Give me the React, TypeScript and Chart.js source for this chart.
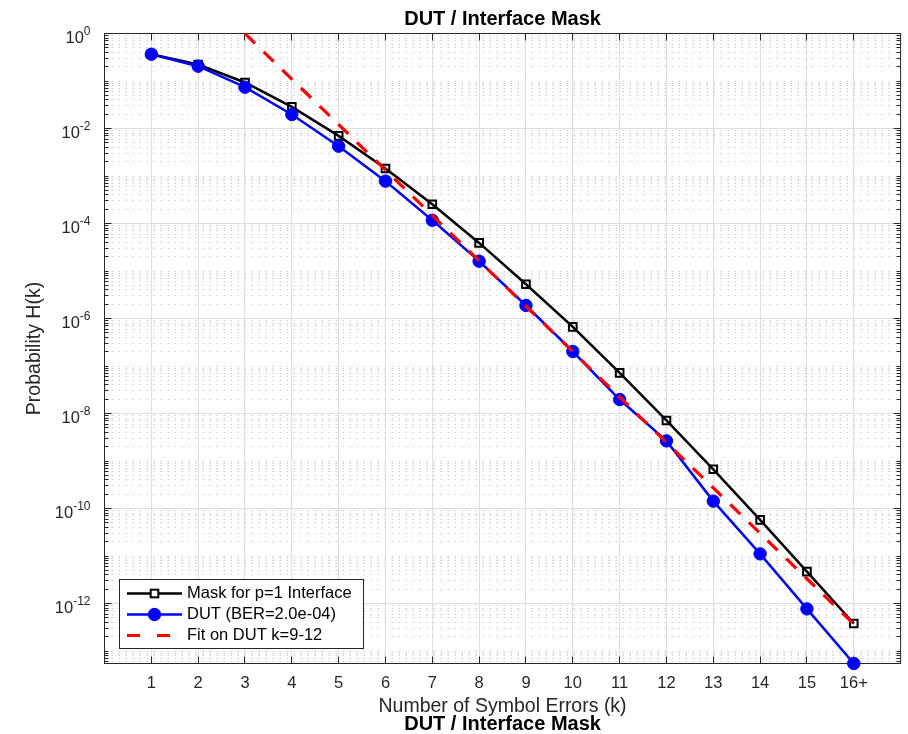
import React, { useEffect, useRef } from 'react';
import { Chart, registerables } from 'chart.js';

Chart.register(...registerables);

// ---------------- data ----------------
const kValues = [1, 2, 3, 4, 5, 6, 7, 8, 9, 10, 11, 12, 13, 14, 15, 16];
const xTickLabels = ['1', '2', '3', '4', '5', '6', '7', '8', '9', '10', '11', '12', '13', '14', '15', '16+'];

const maskValues = [
  0.366, 0.222, 0.093, 0.0285, 0.00698, 1.44e-3, 2.55e-4, 3.9e-5,
  5.27e-6, 6.65e-7, 7.16e-8, 7.13e-9, 6.7e-10, 5.75e-11, 4.7e-12, 3.8e-13,
];
const dutValues = [
  0.366, 0.205, 0.074, 0.0197, 4.24e-3, 7.8e-4, 1.17e-4, 1.61e-5,
  1.88e-6, 2.02e-7, 1.97e-8, 2.65e-9, 1.43e-10, 1.11e-11, 7.7e-13, 5.46e-14,
];
const fitValues: (number | null)[] = [
  null, null, 0.99, 0.1096, 0.0121, 1.34e-3, 1.48e-4, 1.64e-5,
  1.81e-6, 2.0e-7, 2.22e-8, 2.45e-9, 2.72e-10, 3.0e-11, 3.32e-12, 3.67e-13,
];

const yTickExponents = [0, -2, -4, -6, -8, -10, -12];
const seriesLabels = ['Mask for p=1 Interface', 'DUT (BER=2.0e-04)', 'Fit on DUT k=9-12'];
const titleText = 'DUT / Interface Mask';
const xTitleText = 'Number of Symbol Errors (k)';
const yTitleText = 'Probability H(k)';

const X_MIN = 0;
const X_MAX = 17;
const Y_MIN = 5.46e-14;
const Y_MAX = 1;

// ---------------- styles ----------------
const FONT = "'Liberation Sans', Arial, Helvetica, sans-serif";
const AXIS_COLOR = '#262626';
const MAJOR_GRID = '#dedede';
const MINOR_GRID = '#cccccc';

function isLabeledY(v: number) {
  const l = Math.log10(v);
  const e = Math.round(l);
  return Math.abs(l - e) < 1e-6 && yTickExponents.includes(e);
}

const snap = (p: number) => Math.round(p - 0.5) + 0.5;

const matlabAxesPlugin = {
  id: 'matlabAxes',
  beforeDatasetsDraw(chart: any) {
    const { ctx, chartArea: a, scales } = chart;
    const x = scales.x;
    const y = scales.y;
    ctx.save();
    ctx.lineWidth = 1;

    // minor horizontal grid (dotted)
    ctx.strokeStyle = MINOR_GRID;
    ctx.setLineDash([1.5, 5.5]);
    for (const t of y.ticks) {
      if (isLabeledY(t.value)) continue;
      const py = snap(y.getPixelForValue(t.value));
      ctx.beginPath();
      ctx.moveTo(a.left, py);
      ctx.lineTo(a.right, py);
      ctx.stroke();
    }

    // major grid (solid)
    ctx.setLineDash([]);
    ctx.strokeStyle = MAJOR_GRID;
    for (const t of y.ticks) {
      if (!isLabeledY(t.value)) continue;
      const py = snap(y.getPixelForValue(t.value));
      ctx.beginPath();
      ctx.moveTo(a.left, py);
      ctx.lineTo(a.right, py);
      ctx.stroke();
    }
    for (const t of x.ticks) {
      const px = snap(x.getPixelForValue(t.value));
      ctx.beginPath();
      ctx.moveTo(px, a.top);
      ctx.lineTo(px, a.bottom);
      ctx.stroke();
    }

    // box
    ctx.strokeStyle = AXIS_COLOR;
    ctx.strokeRect(a.left, a.top, a.right - a.left, a.bottom - a.top);

    // tick marks (inside)
    ctx.beginPath();
    for (const t of x.ticks) {
      const px = snap(x.getPixelForValue(t.value));
      ctx.moveTo(px, a.bottom);
      ctx.lineTo(px, a.bottom - 7);
      ctx.moveTo(px, a.top);
      ctx.lineTo(px, a.top + 7);
    }
    for (const t of y.ticks) {
      const py = snap(y.getPixelForValue(t.value));
      const len = isLabeledY(t.value) ? 7 : 4;
      ctx.moveTo(a.left, py);
      ctx.lineTo(a.left + len, py);
      ctx.moveTo(a.right, py);
      ctx.lineTo(a.right - len, py);
    }
    ctx.stroke();

    // y tick labels 10^e
    ctx.fillStyle = AXIS_COLOR;
    ctx.textBaseline = 'alphabetic';
    for (const e of yTickExponents) {
      const py = y.getPixelForValue(Math.pow(10, e));
      const expText = String(e);
      const right = a.left - 14;
      ctx.font = `12px ${FONT}`;
      const ew = ctx.measureText(expText).width;
      ctx.textAlign = 'left';
      ctx.fillText(expText, right - ew, py + 1);
      ctx.font = `16.5px ${FONT}`;
      ctx.textAlign = 'right';
      ctx.fillText('10', right - ew, py + 9.4);
    }
    ctx.restore();
  },
  afterDatasetsDraw(chart: any) {
    const { ctx, chartArea: a } = chart;
    const L = a.left + 15;
    const T = a.bottom - 84;
    const W = 244;
    const H = 69;
    ctx.save();
    ctx.fillStyle = '#ffffff';
    ctx.fillRect(L, T, W, H);
    ctx.strokeStyle = AXIS_COLOR;
    ctx.lineWidth = 1;
    ctx.setLineDash([]);
    ctx.strokeRect(L, T, W, H);

    chart.data.datasets.forEach((ds: any, i: number) => {
      const cy = T + 14 + i * 21;
      const x1 = L + 7.5;
      const x2 = L + 62.5;
      const mx = L + 35;
      ctx.save();
      ctx.strokeStyle = ds.borderColor;
      ctx.lineWidth = ds.borderWidth;
      ctx.setLineDash(ds.legendDash || ds.borderDash || []);
      ctx.beginPath();
      ctx.moveTo(x1, cy);
      ctx.lineTo(x2, cy);
      ctx.stroke();
      ctx.setLineDash([]);
      if (ds.pointRadius > 0) {
        if (ds.pointStyle === 'rect') {
          const s = Math.SQRT1_2 * ds.pointRadius;
          ctx.lineWidth = ds.pointBorderWidth;
          ctx.strokeStyle = ds.pointBorderColor;
          ctx.fillStyle = '#ffffff';
          ctx.fillRect(mx - s, cy - s, 2 * s, 2 * s);
          ctx.strokeRect(mx - s, cy - s, 2 * s, 2 * s);
        } else {
          ctx.fillStyle = ds.pointBackgroundColor;
          ctx.strokeStyle = ds.pointBorderColor;
          ctx.lineWidth = ds.pointBorderWidth;
          ctx.beginPath();
          ctx.arc(mx, cy, ds.pointRadius, 0, Math.PI * 2);
          ctx.fill();
          ctx.stroke();
        }
      }
      ctx.restore();
      ctx.fillStyle = '#000000';
      ctx.font = `16.5px ${FONT}`;
      ctx.textAlign = 'left';
      ctx.textBaseline = 'middle';
      ctx.fillText(ds.label, L + 67.5, cy);
    });
    ctx.restore();
  },
};

export default function App() {
  const ref = useRef<HTMLCanvasElement>(null);

  useEffect(() => {
    if (!ref.current) return;
    const maskData = kValues.map((k, i) => ({ x: k, y: maskValues[i] }));
    const dutData = kValues.map((k, i) => ({ x: k, y: dutValues[i] }));
    const fitData = kValues
      .map((k, i) => ({ x: k, y: fitValues[i] }))
      .filter((p) => p.y !== null);

    const chart = new Chart(ref.current, {
      type: 'line',
      data: {
        datasets: [
          {
            label: seriesLabels[0],
            data: maskData as any,
            borderColor: '#000000',
            backgroundColor: '#000000',
            borderWidth: 2.5,
            pointStyle: 'rect',
            pointRadius: 5.4,
            pointBorderWidth: 2,
            pointBorderColor: '#000000',
            pointBackgroundColor: 'rgba(255,255,255,0)',
            order: 3,
            clip: false as any,
          },
          {
            label: seriesLabels[1],
            data: dutData as any,
            borderColor: '#0000ff',
            backgroundColor: '#0000ff',
            borderWidth: 2.5,
            pointStyle: 'circle',
            pointRadius: 6.2,
            pointBorderWidth: 1,
            pointBorderColor: '#0000ff',
            pointBackgroundColor: '#0000ff',
            order: 2,
            clip: false as any,
          },
          {
            label: seriesLabels[2],
            data: fitData as any,
            borderColor: '#ff0000',
            backgroundColor: '#ff0000',
            borderWidth: 3.2,
            borderDash: [14, 12],
            legendDash: [13, 17],
            pointRadius: 0,
            order: 1,
            clip: false as any,
          } as any,
        ],
      },
      options: {
        animation: false,
        responsive: false,
        events: [],
        layout: { padding: { left: 0, right: 5.5, top: 0, bottom: 0 } },
        plugins: {
          legend: { display: false },
          tooltip: { enabled: false },
          title: {
            display: true,
            text: titleText,
            fullSize: false,
            color: '#000000',
            font: { family: FONT, size: 20, weight: 'bold', lineHeight: 1.2 },
            padding: { top: 7.2, bottom: 2.3 },
          },
          subtitle: {
            display: true,
            position: 'bottom',
            text: titleText,
            fullSize: false,
            color: '#000000',
            font: { family: FONT, size: 20, weight: 'bold', lineHeight: 1.2 },
            padding: { top: 0, bottom: -2.5 },
          },
        },
        scales: {
          x: {
            type: 'linear',
            min: X_MIN,
            max: X_MAX,
            bounds: 'data',
            grid: { display: false, drawTicks: false },
            border: { display: false },
            afterBuildTicks: (s: any) => {
              s.ticks = kValues.map((v) => ({ value: v }));
            },
            afterFit: (s: any) => {
              s.height = 49;
            },
            ticks: {
              autoSkip: false,
              maxRotation: 0,
              padding: 10,
              color: AXIS_COLOR,
              font: { family: FONT, size: 16.5, lineHeight: 1.2 },
              callback: (v: any) => {
                const idx = kValues.indexOf(Number(v));
                return idx >= 0 ? xTickLabels[idx] : '';
              },
            },
            title: {
              display: true,
              text: xTitleText,
              color: AXIS_COLOR,
              font: { family: FONT, size: 19.5, lineHeight: 1.2 },
              padding: { top: 0, bottom: -5.8 },
            },
          } as any,
          y: {
            type: 'logarithmic',
            min: Y_MIN,
            max: Y_MAX,
            bounds: 'data',
            grid: { display: false, drawTicks: false },
            border: { display: false },
            afterBuildTicks: (s: any) => {
              const ticks: { value: number }[] = [];
              for (let e = -14; e <= 0; e++) {
                for (let m = 1; m <= 9; m++) {
                  const v = m * Math.pow(10, e);
                  if (v >= s.min * 0.999999 && v <= s.max * 1.000001) ticks.push({ value: v });
                }
              }
              s.ticks = ticks;
            },
            afterFit: (s: any) => {
              s.width = 104.5;
            },
            ticks: { display: false },
            title: {
              display: true,
              text: yTitleText,
              color: AXIS_COLOR,
              font: { family: FONT, size: 19.5, lineHeight: 1.2 },
              padding: { top: 23.2, bottom: 0 },
            },
          } as any,
        },
      },
      plugins: [matlabAxesPlugin],
    } as any);

    return () => chart.destroy();
  }, []);

  return (
    <div style={{ position: 'absolute', left: 0, top: 0, width: 908, height: 734, background: '#ffffff' }}>
      <canvas ref={ref} width={908} height={734} style={{ display: 'block', width: 908, height: 734 }} />
    </div>
  );
}
